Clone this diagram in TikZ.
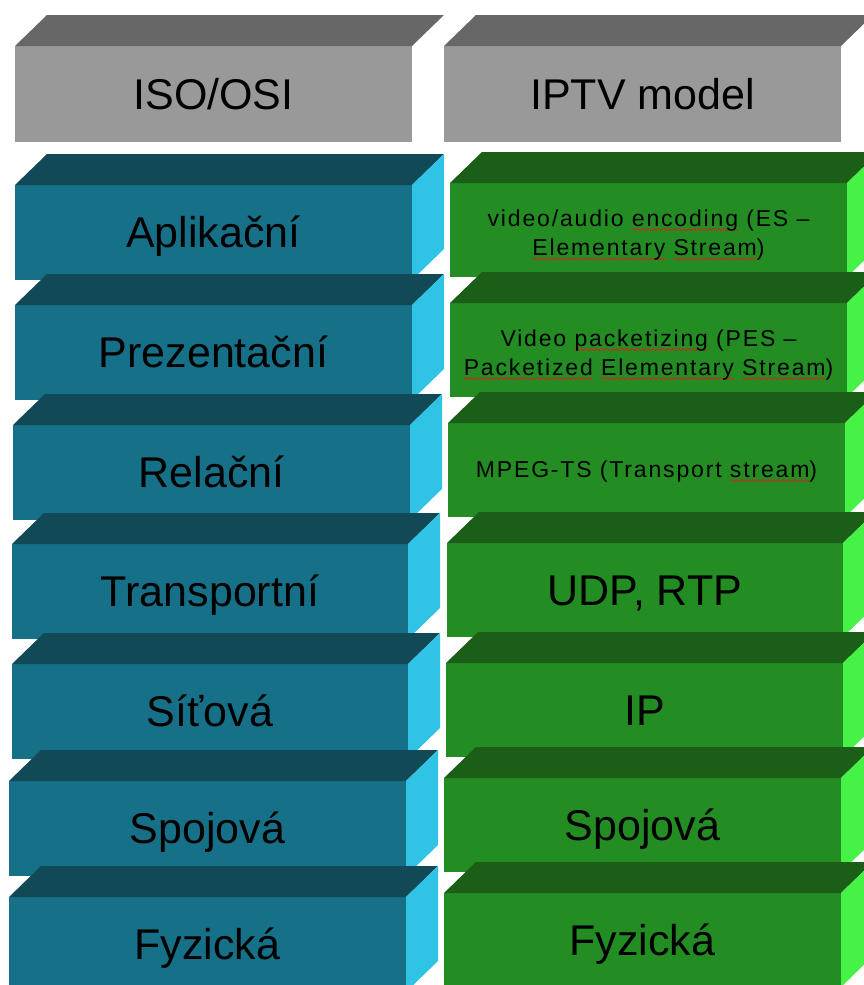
\documentclass[tikz,border=0pt]{standalone}
\usepackage{fontspec}
\setmainfont{Liberation Sans}
\newfontfamily\layerfont[LetterSpace=8]{Liberation Sans}

\definecolor{blueFront}{RGB}{22,112,136}
\definecolor{blueTop}{RGB}{17,73,87}
\definecolor{blueSide}{RGB}{47,195,230}
\definecolor{greenFront}{RGB}{35,141,35}
\definecolor{greenTop}{RGB}{26,94,23}
\definecolor{greenSide}{RGB}{70,242,70}
\definecolor{grayFront}{RGB}{153,153,153}
\definecolor{grayTop}{RGB}{103,103,103}
\definecolor{spellRed}{RGB}{225,30,30}

% one period of a red wave (5pt wide)
\newcommand\wavepiece{\pgfpicture
  \pgfpathrectangle{\pgfpoint{0pt}{-1.5pt}}{\pgfpoint{5pt}{3pt}}%
  \pgfusepath{use as bounding box}%
  \pgfsetcolor{spellRed}\pgfsetlinewidth{0.8pt}%
  \pgfpathmoveto{\pgfpointorigin}%
  \pgfpathsine{\pgfpoint{1.25pt}{1.1pt}}\pgfpathcosine{\pgfpoint{1.25pt}{-1.1pt}}%
  \pgfpathsine{\pgfpoint{1.25pt}{-1.1pt}}\pgfpathcosine{\pgfpoint{1.25pt}{1.1pt}}%
  \pgfusepath{stroke}%
  \pgfsetbaseline{0pt}%
  \endpgfpicture}
% word with a red wavy underline
\newcommand\spellwave[1]{\setbox2=\hbox{#1}\setbox4=\hbox{\wavepiece}%
  \rlap{\raisebox{-3.5pt}[0pt][0pt]{\hbox to \wd2{\xleaders\copy4\hfil}}}\box2\relax}

% 3D slab: #1 name, #2 left, #3 top, #4 right, #5 bottom (front face),
% #6 front colour, #7 top colour, #8 side colour
\newcommand\slab[8]{%
  \node[face, fill=#6, minimum width={(#4-#2)*1pt}, minimum height={(#5-#3)*1pt}]
    (#1) at ({(#2+#4)/2},{(#3+#5)/2}) {};
  \fill[#7] (#1.north west) -- ++(32,-31) -- ([shift={(32,-31)}]#1.north east)
    -- (#1.north east) -- cycle;
  \fill[#8] (#1.north east) -- ++(32,-31) -- ([shift={(32,-31)}]#1.south east)
    -- (#1.south east) -- cycle;
}

\begin{document}
\begin{tikzpicture}[x=1pt,y=-1pt,
  face/.style={rectangle, inner sep=0pt, outer sep=0pt, draw=none},
  bigtext/.style={font=\fontsize{43}{50}\selectfont, inner sep=0pt, anchor=base, text=black},
  smalltext/.style={font=\layerfont\fontsize{23}{27}\selectfont, inner sep=0pt, anchor=base, text=black}]
\useasboundingbox (0,0) rectangle (864,985);
\clip (0,0) rectangle (864,985);
\fill[white] (0,0) rectangle (864,985);

% column headers
\slab{hl}{15}{46}{412}{142}{grayFront}{grayTop}{fill=none}
\slab{hr}{444}{46}{841}{142}{grayFront}{grayTop}{fill=none}

% ISO/OSI layers
\slab{l1}{15}{185}{412}{280}{blueFront}{blueTop}{blueSide}
\slab{l2}{15}{305}{412}{400}{blueFront}{blueTop}{blueSide}
\slab{l3}{13}{425}{410}{520}{blueFront}{blueTop}{blueSide}
\slab{l4}{12}{544}{408}{639}{blueFront}{blueTop}{blueSide}
\slab{l5}{12}{664}{408}{759}{blueFront}{blueTop}{blueSide}
\slab{l6}{9}{781}{406}{876}{blueFront}{blueTop}{blueSide}
\slab{l7}{9}{897}{406}{992}{blueFront}{blueTop}{blueSide}

% IPTV layers
\slab{r1}{450}{183}{847}{277}{greenFront}{greenTop}{greenSide}
\slab{r2}{450}{303}{847}{397}{greenFront}{greenTop}{greenSide}
\slab{r3}{448}{423}{845}{517}{greenFront}{greenTop}{greenSide}
\slab{r4}{447}{543}{843}{637}{greenFront}{greenTop}{greenSide}
\slab{r5}{446}{663}{843}{757}{greenFront}{greenTop}{greenSide}
\slab{r6}{444}{778}{841}{872}{greenFront}{greenTop}{greenSide}
\slab{r7}{444}{893}{841}{987}{greenFront}{greenTop}{greenSide}

% labels
\node[bigtext] (thl) at ([yshift=-15pt]hl.center) {ISO/OSI};
\node[bigtext] (thr) at ([yshift=-15pt]hr.center) {IPTV model};

\node[bigtext] (tl1) at ([yshift=-15pt]l1.center) {Aplikační};
\node[bigtext] (tl2) at ([yshift=-15pt]l2.center) {Prezentační};
\node[bigtext] (tl3) at ([yshift=-15pt]l3.center) {Relační};
\node[bigtext] (tl4) at ([yshift=-15pt]l4.center) {Transportní};
\node[bigtext] (tl5) at ([yshift=-15pt]l5.center) {Síťová};
\node[bigtext] (tl6) at ([yshift=-15pt]l6.center) {Spojová};
\node[bigtext] (tl7) at ([yshift=-15pt]l7.center) {Fyzická};

\node[smalltext] (tr1a) at ([yshift=4pt]r1.center) {video/audio \spellwave{encoding} (ES –};
\node[smalltext] (tr1b) at ([yshift=-25.5pt]r1.center) {\spellwave{Elementary} \spellwave{Stream})};
\node[smalltext] (tr2a) at ([yshift=4pt]r2.center) {Video \spellwave{packetizing} (PES –};
\node[smalltext] (tr2b) at ([yshift=-25pt]r2.center) {\spellwave{Packetized} \spellwave{Elementary} \spellwave{Stream})};
\node[smalltext] (tr3) at ([yshift=-7pt]r3.center) {MPEG-TS (Transport \spellwave{stream})};
\node[bigtext] (tr4) at ([yshift=-15pt]r4.center) {UDP, RTP};
\node[bigtext] (tr5) at ([yshift=-15pt]r5.center) {IP};
\node[bigtext] (tr6) at ([yshift=-15pt]r6.center) {Spojová};
\node[bigtext] (tr7) at ([yshift=-15pt]r7.center) {Fyzická};
\end{tikzpicture}
\end{document}
